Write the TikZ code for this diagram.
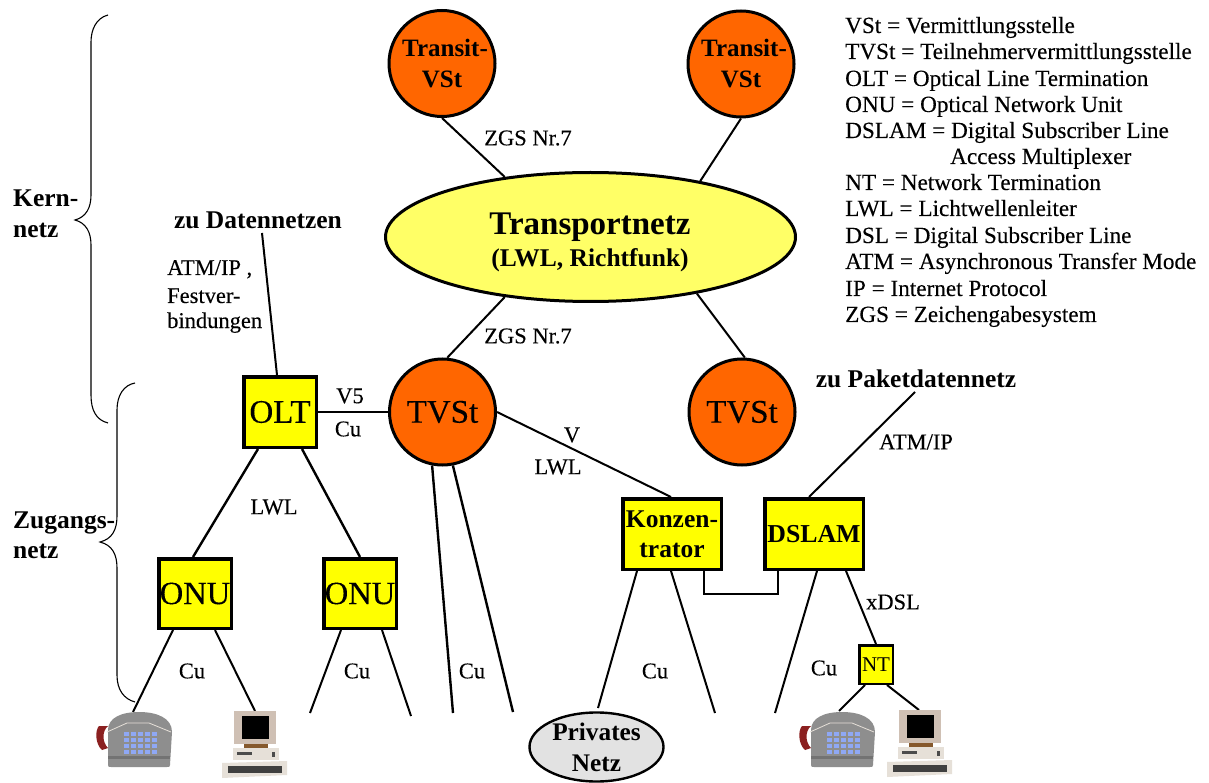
\documentclass[tikz,border=0pt]{standalone}
\usepackage{fontspec}
\setmainfont{Liberation Serif}
\newfontfamily\semi[FakeBold=0.2]{Liberation Serif}
\usetikzlibrary{shapes.geometric,calc}
\definecolor{orng}{HTML}{FF6600}
\definecolor{lyel}{HTML}{FFFF66}
\definecolor{yel}{HTML}{FFFF00}
\definecolor{pgrey}{HTML}{E2E2E2}
\definecolor{phbody}{HTML}{8E8E8E}
\definecolor{phdark}{HTML}{737373}
\definecolor{phkey}{HTML}{8FA8F5}
\definecolor{phcord}{HTML}{8B2020}
\definecolor{pcbeige}{HTML}{CFC0B4}
\definecolor{pclight}{HTML}{E6E0D8}
\tikzset{
  x=1pt,y=-1pt,
  conn/.style={line width=2.4pt},
  tconn/.style={line width=2pt},
  brace/.style={line width=1.1pt},
  vst/.style={circle,draw=black,line width=3pt,fill=orng,minimum size=106pt,inner sep=0pt,align=center},
  boxn/.style={rectangle,draw=black,line width=3.5pt,fill=yel,inner sep=0pt,align=center},
  txt/.style={font=\fontsize{22.5}{26}\selectfont\semi,inner sep=0pt},
  btxt/.style={font=\fontsize{25.5}{30}\selectfont\bfseries,inner sep=0pt},
  leg/.style={font=\fontsize{23.2}{26}\selectfont\semi,inner sep=0pt,anchor=base west},
  phone/.pic={
    \fill[phcord] (-6,14) .. controls (-10,18) and (-10,32) .. (-3,38) -- (3,36) .. controls (-3,30) and (-3,19) .. (3,14) -- cycle;
    \fill[phbody] (3,53) -- (3,18) .. controls (3,6) and (16,0) .. (34,0) .. controls (52,0) and (67,6) .. (67,20) -- (65,53) .. controls (65,55) and (64,55) .. (62,55) -- (6,55) .. controls (4,55) and (3,55) .. (3,53) -- cycle;
    \fill[phdark] (3,44) rectangle (65,47);
    \draw[line width=.8pt,pclight] (2,20) -- (22,11) -- (44,11) -- (66,20);
    \foreach \kx in {19,26,33,40,47} \foreach \ky in {20,26,32,38} {\fill[phkey] (\kx,\ky) rectangle ++(4.5,3.5);}
  },
  computer/.pic={
    \fill[pcbeige] (12,0) rectangle (54,33);
    \fill[black] (20,5) rectangle (47,28);
    \fill[brown!70!black] (22,33) rectangle (46,37);
    \fill[pclight] (11,37) rectangle (57,49);
    \fill[black!70] (15,41) rectangle (30,44);
    \fill[black!70] (50,41) rectangle (53,46);
    \fill[pclight] (0,52) -- (65,50) -- (65,64) -- (0,67) -- cycle;
    \fill[black!75] (6,55) rectangle (60,62);
  },
}
\begin{document}
\begin{tikzpicture}
\useasboundingbox[fill=white] (0,0) rectangle (1209,783);
% nodes
\node[vst,font=\fontsize{25}{31}\selectfont\bfseries] (t1) at (442,63.5) {\hspace*{6pt}Transit-\\VSt};
\node[vst,font=\fontsize{25}{31}\selectfont\bfseries] (t2) at (741,64) {\hspace*{6pt}Transit-\\VSt};
\node[vst,font=\fontsize{33}{36}\selectfont\semi] (v1) at (442.5,412) {TVSt};
\node[vst,font=\fontsize{33}{36}\selectfont\semi] (v2) at (742,412) {TVSt};
\node[ellipse,draw=black,line width=3pt,fill=lyel,minimum width=410pt,minimum height=129pt,inner sep=0pt] (tn) at (590.5,237) {};
\node[font=\fontsize{33}{36}\selectfont\bfseries,inner sep=0pt,anchor=base] (tnA) at (590,235) {Transportnetz};
\node[font=\fontsize{25.5}{30}\selectfont\bfseries,inner sep=0pt,anchor=base] (tnB) at (590,267) {(LWL, Richtfunk)};
\node[boxn,minimum width=72.5pt,minimum height=70.5pt,font=\fontsize{33}{36}\selectfont\semi] (olt) at (280,412) {OLT};
\node[boxn,minimum width=72.5pt,minimum height=69.5pt,font=\fontsize{32.5}{36}\selectfont\semi] (on1) at (195,593.5) {ONU};
\node[boxn,minimum width=72.5pt,minimum height=69.5pt,font=\fontsize{32.5}{36}\selectfont\semi] (on2) at (360,593.5) {ONU};
\node[boxn,minimum width=98.5pt,minimum height=70.5pt,font=\fontsize{25.5}{30}\selectfont\bfseries] (kz) at (672,534) {Konzen-\\trator};
\node[boxn,minimum width=98.5pt,minimum height=70.5pt,font=\fontsize{25.8}{30}\selectfont\bfseries] (ds) at (814,534) {DSLAM};
\node[boxn,line width=2.5pt,minimum width=33.5pt,minimum height=38.5pt,font=\fontsize{21}{24}\selectfont] (nt) at (876,664.5) {NT};
\node[ellipse,draw=black,line width=2.4pt,fill=pgrey,minimum width=134pt,minimum height=68pt,inner sep=0pt,align=center,font=\fontsize{25.3}{31}\selectfont\bfseries] (pn) at (596.5,747) {Privates\\Netz};
% free ends
\coordinate (zd) at (262,233);
\coordinate (zp) at (915,392);
\coordinate (ph1) at (133,712);
\coordinate (pc1) at (255,711);
\coordinate (on2a) at (310,713);
\coordinate (on2b) at (411,716);
\coordinate (v1a) at (453,713);
\coordinate (v1b) at (513,712);
\coordinate (kza) at (598,708);
\coordinate (kzb) at (715,713);
\coordinate (dsa) at (775,713);
\coordinate (ph2) at (839,711);
\coordinate (pc2) at (919,710);
% connectors
\draw[tconn] (t1.-90) -- (tn.145);
\draw[tconn] (t2.-90) -- (tn.27);
\draw[tconn] (tn.215) -- (v1.85);
\draw[tconn] (tn.-28) -- (v2.87);
\draw[tconn] (zd) -- ($(olt.north)+(-3,0)$);
\draw[tconn] (olt.east) -- (v1.west);
\draw[tconn] (v1.0) -- ($(kz.north)+(-1,0)$);
\draw[conn] ($(olt.south)+(-22,0)$) -- ($(on1.north)+(-2,0)$);
\draw[conn] ($(olt.south)+(22,0)$) -- (on2.north);
\draw[conn] (v1.-101) -- (v1a);
\draw[conn] (v1.-79) -- (v1b);
\draw[tconn] ($(on1.south)+(-22,0)$) -- (ph1);
\draw[tconn] ($(on1.south)+(20,0)$) -- (pc1);
\draw[tconn] ($(on2.south)+(-19,0)$) -- (on2a);
\draw[tconn] ($(on2.south)+(22,0)$) -- (on2b);
\draw[tconn] ($(kz.south)+(-35,0)$) -- (kza);
\draw[tconn] ($(kz.south)+(-1,0)$) -- (kzb);
\draw[tconn] ($(kz.south)+(32,0)$) |- ($(kz.south)!0.5!(ds.south)+(0,23)$) -| ($(ds.south)+(-36,0)$);
\draw[tconn] ($(ds.south)+(3,0)$) -- (dsa);
\draw[tconn] ($(ds.south)+(32,0)$) -- (nt.north);
\draw[tconn] (zp) -- ($(ds.north)+(-5,0)$);
\draw[tconn] ($(nt.south)+(-11,0)$) -- (ph2);
\draw[tconn] ($(nt.south)+(11,0)$) -- (pc2);
% braces
\draw[brace] (108,15) .. controls (96,18) and (91,30) .. (91,42) -- (91,195) .. controls (91,208) and (86,217) .. (75,220) .. controls (86,223) and (91,232) .. (91,245) -- (91,395) .. controls (91,410) and (96,420) .. (108,423);
\draw[brace] (135,383) .. controls (124,385) and (117,395) .. (117,410) -- (117,516) .. controls (117,530) and (112,539) .. (100,542) .. controls (112,545) and (117,554) .. (117,568) -- (117,675) .. controls (117,690) and (124,699) .. (135,702);
% labels
\node[btxt,anchor=base west] (lk1) at (13,207) {Kern-};
\node[btxt,anchor=base west] (lk2) at (13,238) {netz};
\node[btxt,anchor=base west] (lz1) at (13,528) {Zugangs-};
\node[btxt,anchor=base west] (lz2) at (13,558) {netz};
\node[btxt,anchor=base] (zdT) at (258,229) {zu Datennetzen};
\node[btxt,anchor=base] (zpT) at (916,387) {zu Paketdatennetz};
\node[txt,anchor=base west] (a1) at (167,275) {ATM/IP ,};
\node[txt,anchor=base west] (a2) at (167,303) {Festver-};
\node[txt,anchor=base west] (a3) at (167,328) {bindungen};
\node[txt] (z1) at (528,138) {ZGS Nr.7};
\node[txt] (z2) at (528,336) {ZGS Nr.7};
\node[txt] (l5) at (350,396) {V5};
\node[txt] (c0) at (348,429) {Cu};
\node[txt] (lv) at (572,435) {V};
\node[txt] (ll) at (558,467) {LWL};
\node[txt] (ll2) at (274,507) {LWL};
\node[txt] (at) at (916,442) {ATM/IP};
\node[txt] (xd) at (893,602) {xDSL};
\node[txt] (c1) at (192,671) {Cu};
\node[txt] (c2) at (357,671) {Cu};
\node[txt] (c3) at (472,671) {Cu};
\node[txt] (c4) at (655,671) {Cu};
\node[txt] (c5) at (824,668) {Cu};
% legend
\node[leg] (g1) at (845,33) {VSt = Vermittlungsstelle};
\node[leg] (g2) at (845,59) {TVSt = Teilnehmervermittlungsstelle};
\node[leg] (g3) at (845,86) {OLT = Optical Line Termination};
\node[leg] (g4) at (845,112) {ONU = Optical Network Unit};
\node[leg] (g5) at (845,138) {DSLAM = Digital Subscriber Line};
\node[leg] (g5b) at (950,164) {Access Multiplexer};
\node[leg] (g6) at (845,190) {NT = Network Termination};
\node[leg] (g7) at (845,216) {LWL = Lichtwellenleiter};
\node[leg] (g8) at (845,243) {DSL = Digital Subscriber Line};
\node[leg] (g9) at (845,269) {ATM = Asynchronous Transfer Mode};
\node[leg] (g10) at (845,296) {IP = Internet Protocol};
\node[leg] (g11) at (845,322) {ZGS = Zeichengabesystem};
% devices
\pic at (105,712) {phone};
\pic at (808,712) {phone};
\pic at (222,711) {computer};
\pic at (887,710) {computer};
\end{tikzpicture}
\end{document}
